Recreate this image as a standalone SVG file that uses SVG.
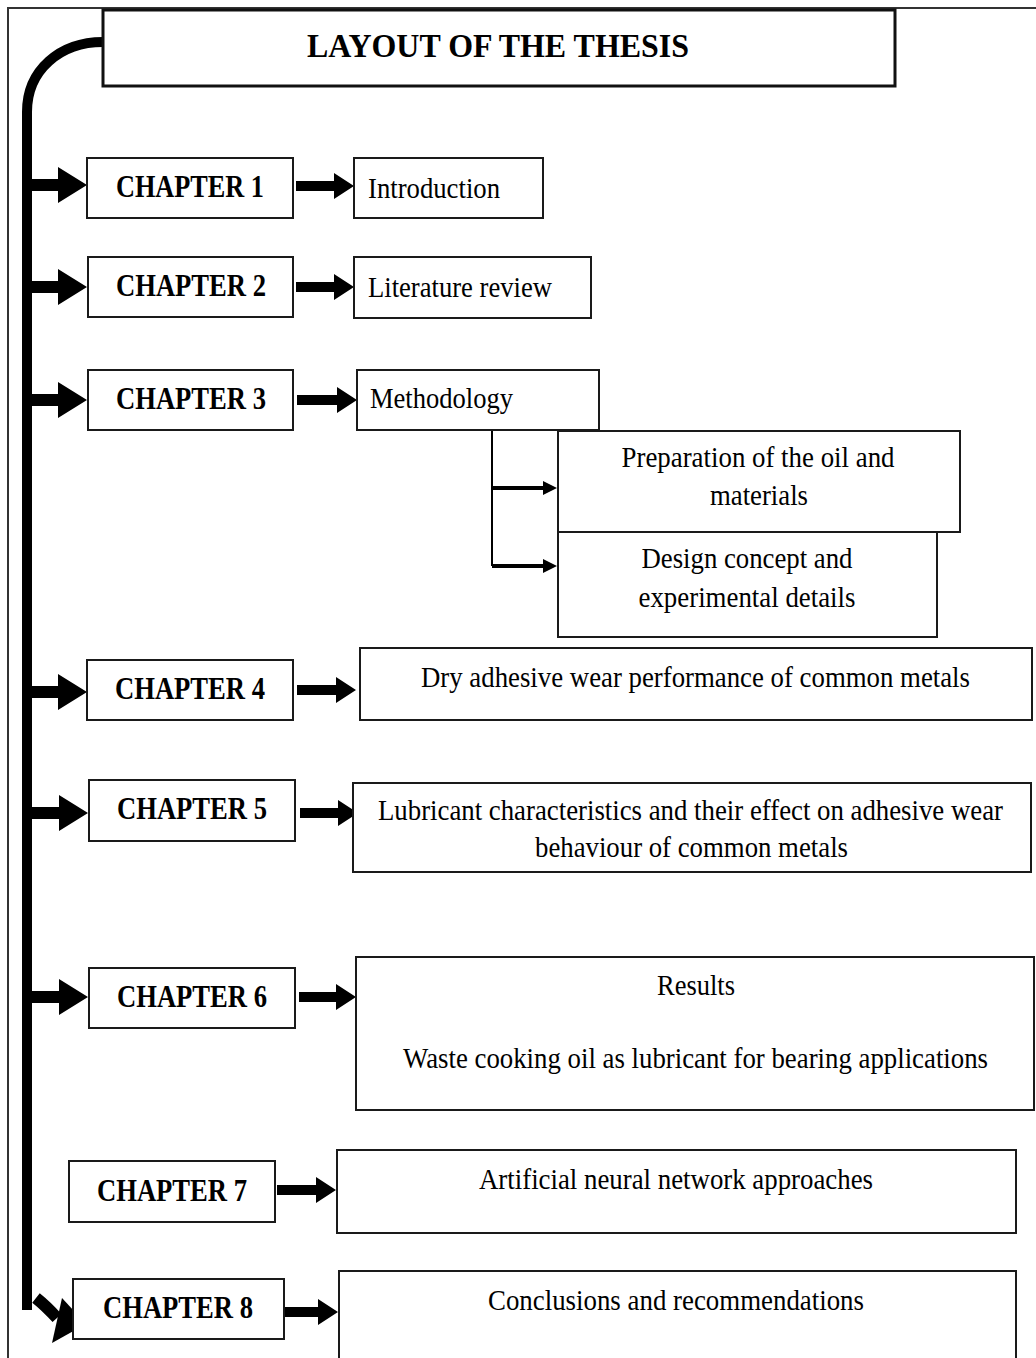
<svg xmlns="http://www.w3.org/2000/svg" width="1036" height="1358" viewBox="0 0 1036 1358">
<style>
.box{fill:#fff;stroke:#1a1a1a;stroke-width:2}
.ch{font-family:"Liberation Serif","Times New Roman",serif;font-weight:bold;font-size:31px;fill:#000}
.tx{font-family:"Liberation Serif","Times New Roman",serif;font-size:29px;fill:#000}
.arr{fill:#000}
</style>
<rect x="0" y="0" width="1036" height="1358" fill="#fff"/>
<g id="frame">
<path d="M8 1358 V8 H1036" fill="none" stroke="#333" stroke-width="2"/>
</g>
<g id="connectors">
<path d="M103 42 C60 42 27 70 27 112 L27 1310" fill="none" stroke="#000" stroke-width="10"/>
<polygon class="arr" points="27,179 58,179 58,167 87,185 58,203 58,191 27,191"/>
<polygon class="arr" points="27,281 58,281 58,269 87,287 58,305 58,293 27,293"/>
<polygon class="arr" points="27,394 58,394 58,382 87,400 58,418 58,406 27,406"/>
<polygon class="arr" points="27,686 58,686 58,674 87,692 58,710 58,698 27,698"/>
<polygon class="arr" points="27,807 59,807 59,795 88,813 59,831 59,819 27,819"/>
<polygon class="arr" points="27,991 59,991 59,979 88,997 59,1015 59,1003 27,1003"/>
<path d="M36 1298 Q46 1306 57 1318" fill="none" stroke="#000" stroke-width="12"/>
<polygon class="arr" points="62,1298 86,1324 52,1343"/>
<polygon class="arr" points="296,181 334,181 334,173 354,186 334,199 334,191 296,191"/>
<polygon class="arr" points="296,282 334,282 334,274 354,287 334,300 334,292 296,292"/>
<polygon class="arr" points="297,395 337,395 337,387 357,400 337,413 337,405 297,405"/>
<polygon class="arr" points="297,685 336,685 336,677 356,690 336,703 336,695 297,695"/>
<polygon class="arr" points="300,808 338,808 338,800 358,813 338,826 338,818 300,818"/>
<polygon class="arr" points="299,992 336,992 336,984 356,997 336,1010 336,1002 299,1002"/>
<polygon class="arr" points="277,1185 316,1185 316,1177 336,1190 316,1203 316,1195 277,1195"/>
<polygon class="arr" points="279,1307 318,1307 318,1299 338,1312 318,1325 318,1317 279,1317"/>
<path d="M492 430 V566" fill="none" stroke="#000" stroke-width="2"/>
<path d="M492 488 H545 M492 566 H545" fill="none" stroke="#000" stroke-width="4"/>
<polygon class="arr" points="543,481 557,488 543,495"/>
<polygon class="arr" points="543,559 557,566 543,573"/>
</g>
<g id="title">
<rect x="103" y="10" width="792" height="76" fill="#fff" stroke="#111" stroke-width="3"/>
<text x="498" y="57" text-anchor="middle" font-family="Liberation Serif, Times New Roman, serif" font-weight="bold" font-size="34" textLength="382" lengthAdjust="spacingAndGlyphs">LAYOUT OF THE THESIS</text>
</g>
<g id="ch1"><rect class="box" x="87" y="158" width="206" height="60"/><text class="ch" x="190" y="197" text-anchor="middle" textLength="148" lengthAdjust="spacingAndGlyphs">CHAPTER 1</text></g>
<g id="ch2"><rect class="box" x="88" y="257" width="205" height="60"/><text class="ch" x="191" y="296" text-anchor="middle" textLength="150" lengthAdjust="spacingAndGlyphs">CHAPTER 2</text></g>
<g id="ch3"><rect class="box" x="88" y="370" width="205" height="60"/><text class="ch" x="191" y="409" text-anchor="middle" textLength="150" lengthAdjust="spacingAndGlyphs">CHAPTER 3</text></g>
<g id="ch4"><rect class="box" x="87" y="660" width="206" height="60"/><text class="ch" x="190" y="699" text-anchor="middle" textLength="150" lengthAdjust="spacingAndGlyphs">CHAPTER 4</text></g>
<g id="ch5"><rect class="box" x="89" y="780" width="206" height="61"/><text class="ch" x="192" y="819" text-anchor="middle" textLength="150" lengthAdjust="spacingAndGlyphs">CHAPTER 5</text></g>
<g id="ch6"><rect class="box" x="89" y="968" width="206" height="60"/><text class="ch" x="192" y="1007" text-anchor="middle" textLength="150" lengthAdjust="spacingAndGlyphs">CHAPTER 6</text></g>
<g id="ch7"><rect class="box" x="69" y="1161" width="206" height="61"/><text class="ch" x="172" y="1201" text-anchor="middle" textLength="150" lengthAdjust="spacingAndGlyphs">CHAPTER 7</text></g>
<g id="ch8"><rect class="box" x="73" y="1279" width="211" height="60"/><text class="ch" x="178" y="1318" text-anchor="middle" textLength="150" lengthAdjust="spacingAndGlyphs">CHAPTER 8</text></g>
<g id="intro"><rect class="box" x="354" y="158" width="189" height="60"/><text class="tx" x="368" y="198" textLength="132" lengthAdjust="spacingAndGlyphs">Introduction</text></g>
<g id="lit"><rect class="box" x="354" y="257" width="237" height="61"/><text class="tx" x="368" y="297" textLength="184" lengthAdjust="spacingAndGlyphs">Literature review</text></g>
<g id="method"><rect class="box" x="357" y="370" width="242" height="60"/><text class="tx" x="370" y="408" textLength="143" lengthAdjust="spacingAndGlyphs">Methodology</text></g>
<g id="prep"><rect class="box" x="558" y="431" width="402" height="101"/><text class="tx" x="758" y="467" text-anchor="middle" textLength="273" lengthAdjust="spacingAndGlyphs">Preparation of the oil and</text><text class="tx" x="759" y="505" text-anchor="middle" textLength="98" lengthAdjust="spacingAndGlyphs">materials</text></g>
<g id="design"><rect class="box" x="558" y="532" width="379" height="105"/><text class="tx" x="747" y="568" text-anchor="middle" textLength="211" lengthAdjust="spacingAndGlyphs">Design concept and</text><text class="tx" x="747" y="607" text-anchor="middle" textLength="217" lengthAdjust="spacingAndGlyphs">experimental details</text></g>
<g id="dry"><rect class="box" x="360" y="648" width="672" height="72"/><text class="tx" x="421" y="687" textLength="549" lengthAdjust="spacingAndGlyphs">Dry adhesive wear performance of common metals</text></g>
<g id="lub"><rect class="box" x="353" y="783" width="678" height="89"/><text class="tx" x="378" y="820" font-size="27" textLength="625" lengthAdjust="spacingAndGlyphs">Lubricant characteristics and their effect on adhesive wear</text><text class="tx" x="535" y="857" textLength="313" lengthAdjust="spacingAndGlyphs">behaviour of common metals</text></g>
<g id="results"><rect class="box" x="356" y="957" width="678" height="153"/><text class="tx" x="657" y="995" textLength="78" lengthAdjust="spacingAndGlyphs">Results</text><text class="tx" x="403" y="1068" textLength="585" lengthAdjust="spacingAndGlyphs">Waste cooking oil as lubricant for bearing applications</text></g>
<g id="ann"><rect class="box" x="337" y="1150" width="679" height="83"/><text class="tx" x="479" y="1189" textLength="394" lengthAdjust="spacingAndGlyphs">Artificial neural network approaches</text></g>
<g id="concl"><rect class="box" x="339" y="1271" width="677" height="100"/><text class="tx" x="488" y="1310" textLength="376" lengthAdjust="spacingAndGlyphs">Conclusions and recommendations</text></g>
</svg>
